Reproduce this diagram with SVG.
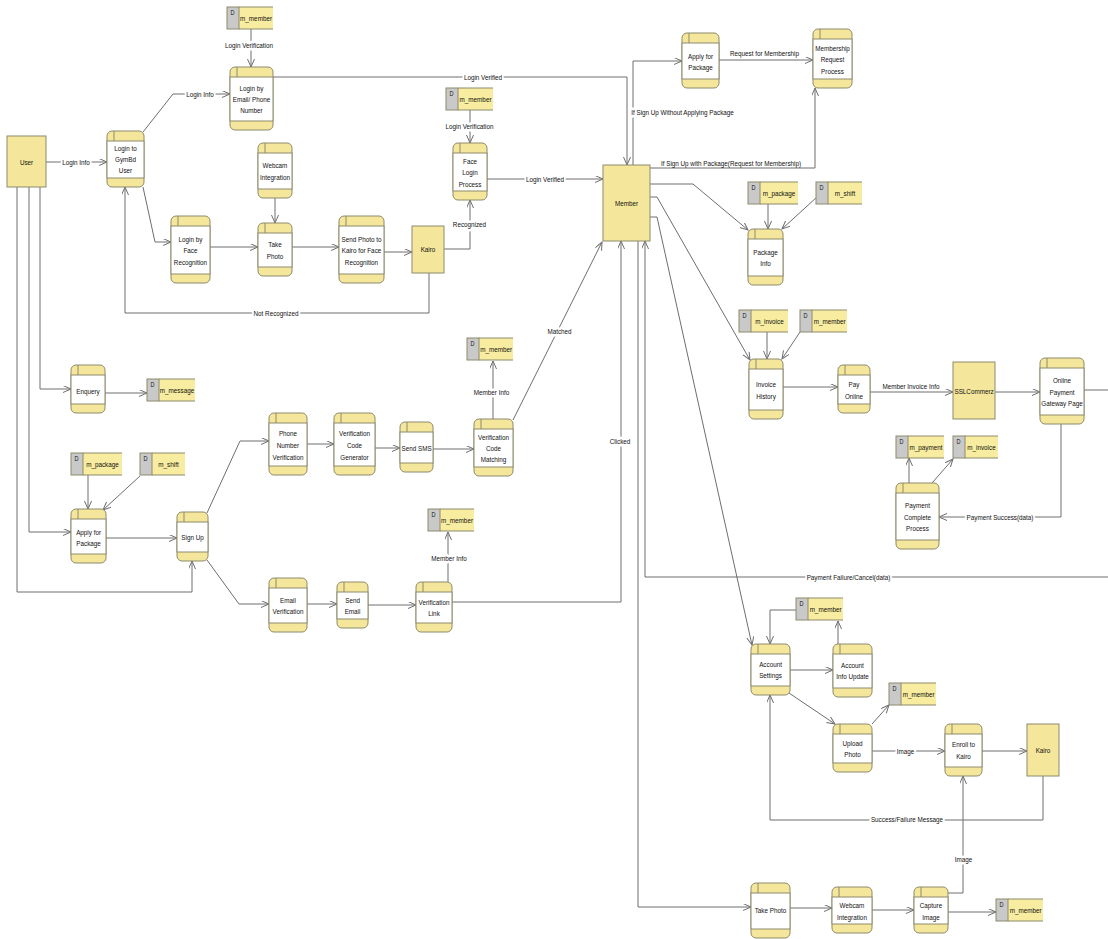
<svg xmlns="http://www.w3.org/2000/svg" width="1108" height="939" viewBox="0 0 1108 939">
<style>
.bg{fill:#fff}
.pb{fill:#f4e79b;stroke:#8e8a6c;stroke-width:1}
.pw{fill:#fff;stroke:#8e8a6c;stroke-width:1}
.pd{stroke:#8e8a6c;stroke-width:1}
.ent{fill:#f4e79b;stroke:#8e8a6c;stroke-width:1}
.dg{fill:#c9c9c9;stroke:#8e8a6c;stroke-width:1}
.dy{fill:#f7ec9f}
.db{fill:none;stroke:#8e8a6c;stroke-width:1}
text{font-family:"Liberation Sans",Arial,sans-serif;font-size:8px;fill:#111;transform:scaleX(0.79);transform-box:fill-box;transform-origin:center}
.t{text-anchor:middle}
.td{text-anchor:middle;font-size:7px}
.cn path{fill:none;stroke:#6e6e6e;stroke-width:1}
.cn path.a{marker-end:url(#arr)}
.lab text{text-anchor:middle}
.lab text.h{stroke:#fff;stroke-width:5px;paint-order:stroke;stroke-linejoin:round}
</style>
<defs>
<marker id="arr" markerUnits="userSpaceOnUse" markerWidth="10" markerHeight="9" refX="8" refY="3.5" orient="auto">
<path d="M0,0 L8,3.5 L0,7" fill="none" stroke="#6e6e6e" stroke-width="1"/>
</marker>
</defs>
<rect class="bg" x="0" y="0" width="1108" height="939"/>

<g id="connectors" class="cn">
<path class="a" d="M46,162 H107"/>
<path class="a" d="M143,132 L173,94 H230"/>
<path class="a" d="M251,29 V67"/>
<path class="a" d="M273,77 H627 V165"/>
<path class="a" d="M143,187 L155,242 H171"/>
<path class="a" d="M210,247 H258"/>
<path class="a" d="M275,198 V223"/>
<path class="a" d="M292,247 H339"/>
<path class="a" d="M384,252 H412"/>
<path class="a" d="M444,249 H470 V200"/>
<path class="a" d="M429,273 V313 H125 V187"/>
<path class="a" d="M470,110 V143"/>
<path class="a" d="M487,179 H603"/>
<path class="a" d="M633,165 V61 H682"/>
<path class="a" d="M719,60 H813"/>
<path class="a" d="M650,168 H815 V88"/>
<path class="a" d="M650,184 H693 L748,230"/>
<path class="a" d="M768,204 V229"/>
<path class="a" d="M817,197 L782,229"/>
<path class="a" d="M650,197 H657 L750,360"/>
<path class="a" d="M767,332 V359"/>
<path class="a" d="M800,332 L782,359"/>
<path class="a" d="M783,387 H838"/>
<path class="a" d="M870,392 H953"/>
<path class="a" d="M995,392 H1040"/>
<path d="M1084,390 H1108"/>
<path class="a" d="M1061,424 V517 H939"/>
<path class="a" d="M909,483 V458"/>
<path class="a" d="M932,483 L953,459"/>
<path class="a" d="M1108,577 H645 V241"/>
<path class="a" d="M650,217 H657 L752,645"/>
<path class="a" d="M796,610 H770 V644"/>
<path class="a" d="M790,670 H833"/>
<path class="a" d="M838,644 V621"/>
<path class="a" d="M789,693 L835,724"/>
<path class="a" d="M872,724 L889,705"/>
<path class="a" d="M872,751 H945"/>
<path class="a" d="M982,751 H1027"/>
<path class="a" d="M1043,776 V820 H770 V695"/>
<path class="a" d="M638,241 V907 H751"/>
<path class="a" d="M790,908 H832"/>
<path class="a" d="M872,910 H914"/>
<path class="a" d="M948,912 H996"/>
<path class="a" d="M948,893 H963 V776"/>
<path class="a" d="M40,187 V389 H71"/>
<path class="a" d="M105,393 H147"/>
<path class="a" d="M29,187 V532 H71"/>
<path class="a" d="M17,187 V592 H192 V561"/>
<path class="a" d="M88,475 V509"/>
<path class="a" d="M140,476 L103,510"/>
<path class="a" d="M106,538 H177"/>
<path class="a" d="M207,513 L240,441 H269"/>
<path class="a" d="M307,444 H334"/>
<path class="a" d="M375,448 H400"/>
<path class="a" d="M433,449 H474"/>
<path class="a" d="M513,420 L602,242"/>
<path class="a" d="M493,419 V361"/>
<path class="a" d="M207,560 L239,604 H269"/>
<path class="a" d="M307,604 H337"/>
<path class="a" d="M368,605 H416"/>
<path class="a" d="M448,582 V532"/>
<path class="a" d="M452,602 H621 V241"/>
</g>

<g id="labels" class="lab">
<text class="h" x="76" y="165">Login Info</text>
<text class="h" x="200" y="97">Login Info</text>
<text class="h" x="249" y="48">Login Verification</text>
<text class="h" x="483" y="80">Login Verified</text>
<text class="h" x="469.5" y="129">Login Verification</text>
<text class="h" x="545" y="182">Login Verified</text>
<text class="h" x="469.5" y="227">Recognized</text>
<text class="h" x="276" y="316">Not Recognized</text>
<text class="h" x="682.5" y="115">If Sign Up Without Applying Package</text>
<text x="764.5" y="56">Request for Membership</text>
<text x="731" y="166">If Sign Up with Package(Request for Membership)</text>
<text class="h" x="559.5" y="334">Matched</text>
<text class="h" x="491.5" y="395">Member Info</text>
<text class="h" x="620" y="444">Clicked</text>
<text x="911" y="389">Member Invoice Info</text>
<text class="h" x="1000" y="520">Payment Success(data)</text>
<text class="h" x="848.5" y="580">Payment Failure/Cancel(data)</text>
<text class="h" x="449" y="561">Member Info</text>
<text class="h" x="905.5" y="754">Image</text>
<text class="h" x="907" y="822">Success/Failure Message</text>
<text class="h" x="963.5" y="862">Image</text>
</g>

<!-- External entities -->
<g id="e-user"><rect class="ent" x="7" y="136" width="39" height="51"/><text class="t" x="26.5" y="165">User</text></g>
<g id="e-kairo1"><rect class="ent" x="412" y="226" width="32" height="47"/><text class="t" x="428" y="252">Kairo</text></g>
<g id="e-member"><rect class="ent" x="603" y="165" width="47" height="76"/><text class="t" x="626.5" y="206">Member</text></g>
<g id="e-sslcommerz"><rect class="ent" x="953" y="362" width="42" height="57"/><text class="t" x="974" y="394">SSLCommerz</text></g>
<g id="e-kairo2"><rect class="ent" x="1027" y="724" width="32" height="52"/><text class="t" x="1043" y="753">Kairo</text></g>

<!-- Processes -->
<g id="p-login-gymbd"><rect class="pb" x="107" y="131" width="37" height="56" rx="5"/><rect class="pw" x="107" y="141" width="37" height="37"/><line class="pd" x1="114" y1="131" x2="114" y2="141"/><text class="t"><tspan x="125.5" y="151">Login to</tspan><tspan x="125.5" y="162">GymBd</tspan><tspan x="125.5" y="173">User</tspan></text></g>
<g id="p-login-email"><rect class="pb" x="230" y="67" width="43" height="63" rx="5"/><rect class="pw" x="230" y="77" width="43" height="44"/><line class="pd" x1="237" y1="67" x2="237" y2="77"/><text class="t"><tspan x="251.5" y="91">Login by</tspan><tspan x="251.5" y="102">Email/ Phone</tspan><tspan x="251.5" y="113">Number</tspan></text></g>
<g id="p-webcam1"><rect class="pb" x="258" y="143" width="34" height="55" rx="5"/><rect class="pw" x="258" y="153" width="34" height="36"/><line class="pd" x1="265" y1="143" x2="265" y2="153"/><text class="t"><tspan x="275" y="168">Webcam</tspan><tspan x="275" y="180">Integration</tspan></text></g>
<g id="p-face-recog"><rect class="pb" x="171" y="216" width="39" height="67" rx="5"/><rect class="pw" x="171" y="226" width="39" height="48"/><line class="pd" x1="178" y1="216" x2="178" y2="226"/><text class="t"><tspan x="190.5" y="242">Login by</tspan><tspan x="190.5" y="253">Face</tspan><tspan x="190.5" y="265">Recognition</tspan></text></g>
<g id="p-take-photo1"><rect class="pb" x="258" y="223" width="34" height="53" rx="5"/><rect class="pw" x="258" y="233" width="34" height="34"/><line class="pd" x1="265" y1="223" x2="265" y2="233"/><text class="t"><tspan x="275" y="247">Take</tspan><tspan x="275" y="259">Photo</tspan></text></g>
<g id="p-send-photo"><rect class="pb" x="339" y="216" width="45" height="67" rx="5"/><rect class="pw" x="339" y="226" width="45" height="48"/><line class="pd" x1="346" y1="216" x2="346" y2="226"/><text class="t"><tspan x="361.5" y="242">Send Photo to</tspan><tspan x="361.5" y="253">Kairo for Face</tspan><tspan x="361.5" y="265">Recognition</tspan></text></g>
<g id="p-face-login"><rect class="pb" x="453" y="143" width="34" height="57" rx="5"/><rect class="pw" x="453" y="153" width="34" height="38"/><line class="pd" x1="460" y1="143" x2="460" y2="153"/><text class="t"><tspan x="470" y="164">Face</tspan><tspan x="470" y="175">Login</tspan><tspan x="470" y="187">Process</tspan></text></g>
<g id="p-apply-pkg-top"><rect class="pb" x="682" y="33" width="37" height="55" rx="5"/><rect class="pw" x="682" y="43" width="37" height="36"/><line class="pd" x1="689" y1="33" x2="689" y2="43"/><text class="t"><tspan x="700.5" y="59">Apply for</tspan><tspan x="700.5" y="70">Package</tspan></text></g>
<g id="p-membership"><rect class="pb" x="813" y="29" width="39" height="59" rx="5"/><rect class="pw" x="813" y="39" width="39" height="40"/><line class="pd" x1="820" y1="29" x2="820" y2="39"/><text class="t"><tspan x="832.5" y="51">Membership</tspan><tspan x="832.5" y="62">Request</tspan><tspan x="832.5" y="74">Process</tspan></text></g>
<g id="p-package-info"><rect class="pb" x="748" y="229" width="35" height="56" rx="5"/><rect class="pw" x="748" y="239" width="35" height="37"/><line class="pd" x1="755" y1="229" x2="755" y2="239"/><text class="t"><tspan x="765.5" y="255">Package</tspan><tspan x="765.5" y="266">Info</tspan></text></g>
<g id="p-invoice-history"><rect class="pb" x="749" y="359" width="34" height="60" rx="5"/><rect class="pw" x="749" y="369" width="34" height="41"/><line class="pd" x1="756" y1="359" x2="756" y2="369"/><text class="t"><tspan x="766" y="387">Invoice</tspan><tspan x="766" y="399">History</tspan></text></g>
<g id="p-pay-online"><rect class="pb" x="838" y="365" width="32" height="48" rx="5"/><rect class="pw" x="838" y="375" width="32" height="29"/><line class="pd" x1="845" y1="365" x2="845" y2="375"/><text class="t"><tspan x="854" y="387">Pay</tspan><tspan x="854" y="399">Online</tspan></text></g>
<g id="p-gateway"><rect class="pb" x="1040" y="358" width="44" height="66" rx="5"/><rect class="pw" x="1040" y="368" width="44" height="47"/><line class="pd" x1="1047" y1="358" x2="1047" y2="368"/><text class="t"><tspan x="1062" y="383">Online</tspan><tspan x="1062" y="395">Payment</tspan><tspan x="1062" y="406">Gateway Page</tspan></text></g>
<g id="p-payment-complete"><rect class="pb" x="896" y="483" width="43" height="66" rx="5"/><rect class="pw" x="896" y="493" width="43" height="47"/><line class="pd" x1="903" y1="483" x2="903" y2="493"/><text class="t"><tspan x="917.5" y="508">Payment</tspan><tspan x="917.5" y="520">Complete</tspan><tspan x="917.5" y="531">Process</tspan></text></g>
<g id="p-enquery"><rect class="pb" x="71" y="365" width="34" height="48" rx="5"/><rect class="pw" x="71" y="375" width="34" height="29"/><line class="pd" x1="78" y1="365" x2="78" y2="375"/><text class="t" x="88" y="394">Enquery</text></g>
<g id="p-phone-ver"><rect class="pb" x="269" y="413" width="38" height="62" rx="5"/><rect class="pw" x="269" y="423" width="38" height="43"/><line class="pd" x1="276" y1="413" x2="276" y2="423"/><text class="t"><tspan x="288" y="436">Phone</tspan><tspan x="288" y="448">Number</tspan><tspan x="288" y="460">Verification</tspan></text></g>
<g id="p-vcode-gen"><rect class="pb" x="334" y="413" width="41" height="62" rx="5"/><rect class="pw" x="334" y="423" width="41" height="43"/><line class="pd" x1="341" y1="413" x2="341" y2="423"/><text class="t"><tspan x="354.5" y="436">Verification</tspan><tspan x="354.5" y="448">Code</tspan><tspan x="354.5" y="460">Generator</tspan></text></g>
<g id="p-send-sms"><rect class="pb" x="400" y="422" width="33" height="50" rx="5"/><rect class="pw" x="400" y="432" width="33" height="31"/><line class="pd" x1="407" y1="422" x2="407" y2="432"/><text class="t" x="416.5" y="451">Send SMS</text></g>
<g id="p-vcode-match"><rect class="pb" x="474" y="419" width="39" height="57" rx="5"/><rect class="pw" x="474" y="429" width="39" height="38"/><line class="pd" x1="481" y1="419" x2="481" y2="429"/><text class="t"><tspan x="493.5" y="440">Verification</tspan><tspan x="493.5" y="451">Code</tspan><tspan x="493.5" y="462">Matching</tspan></text></g>
<g id="p-apply-pkg-left"><rect class="pb" x="71" y="509" width="35" height="54" rx="5"/><rect class="pw" x="71" y="519" width="35" height="35"/><line class="pd" x1="78" y1="509" x2="78" y2="519"/><text class="t"><tspan x="88.5" y="535">Apply for</tspan><tspan x="88.5" y="546">Package</tspan></text></g>
<g id="p-signup"><rect class="pb" x="177" y="512" width="31" height="49" rx="5"/><rect class="pw" x="177" y="522" width="31" height="30"/><line class="pd" x1="184" y1="512" x2="184" y2="522"/><text class="t" x="192.5" y="540">Sign Up</text></g>
<g id="p-email-ver"><rect class="pb" x="269" y="578" width="38" height="54" rx="5"/><rect class="pw" x="269" y="588" width="38" height="35"/><line class="pd" x1="276" y1="578" x2="276" y2="588"/><text class="t"><tspan x="288" y="603">Email</tspan><tspan x="288" y="614">Verification</tspan></text></g>
<g id="p-send-email"><rect class="pb" x="337" y="582" width="31" height="46" rx="5"/><rect class="pw" x="337" y="592" width="31" height="27"/><line class="pd" x1="344" y1="582" x2="344" y2="592"/><text class="t"><tspan x="352.5" y="603">Send</tspan><tspan x="352.5" y="614">Email</tspan></text></g>
<g id="p-ver-link"><rect class="pb" x="416" y="582" width="36" height="50" rx="5"/><rect class="pw" x="416" y="592" width="36" height="31"/><line class="pd" x1="423" y1="582" x2="423" y2="592"/><text class="t"><tspan x="434" y="605">Verification</tspan><tspan x="434" y="616">Link</tspan></text></g>
<g id="p-acct-settings"><rect class="pb" x="751" y="644" width="39" height="51" rx="5"/><rect class="pw" x="751" y="654" width="39" height="32"/><line class="pd" x1="758" y1="644" x2="758" y2="654"/><text class="t"><tspan x="770.5" y="667">Account</tspan><tspan x="770.5" y="678">Settings</tspan></text></g>
<g id="p-acct-update"><rect class="pb" x="833" y="644" width="39" height="53" rx="5"/><rect class="pw" x="833" y="654" width="39" height="34"/><line class="pd" x1="840" y1="644" x2="840" y2="654"/><text class="t"><tspan x="852.5" y="668">Account</tspan><tspan x="852.5" y="679">Info Update</tspan></text></g>
<g id="p-upload-photo"><rect class="pb" x="833" y="724" width="39" height="48" rx="5"/><rect class="pw" x="833" y="734" width="39" height="29"/><line class="pd" x1="840" y1="724" x2="840" y2="734"/><text class="t"><tspan x="852.5" y="746">Upload</tspan><tspan x="852.5" y="757">Photo</tspan></text></g>
<g id="p-enroll"><rect class="pb" x="945" y="724" width="37" height="52" rx="5"/><rect class="pw" x="945" y="734" width="37" height="33"/><line class="pd" x1="952" y1="724" x2="952" y2="734"/><text class="t"><tspan x="963.5" y="747">Enroll to</tspan><tspan x="963.5" y="759">Kairo</tspan></text></g>
<g id="p-take-photo2"><rect class="pb" x="751" y="883" width="39" height="55" rx="5"/><rect class="pw" x="751" y="893" width="39" height="36"/><line class="pd" x1="758" y1="883" x2="758" y2="893"/><text class="t" x="770.5" y="913">Take Photo</text></g>
<g id="p-webcam2"><rect class="pb" x="832" y="887" width="40" height="46" rx="5"/><rect class="pw" x="832" y="897" width="40" height="27"/><line class="pd" x1="839" y1="887" x2="839" y2="897"/><text class="t"><tspan x="852" y="908">Webcam</tspan><tspan x="852" y="920">Integration</tspan></text></g>
<g id="p-capture"><rect class="pb" x="914" y="887" width="34" height="46" rx="5"/><rect class="pw" x="914" y="897" width="34" height="27"/><line class="pd" x1="921" y1="887" x2="921" y2="897"/><text class="t"><tspan x="931" y="908">Capture</tspan><tspan x="931" y="920">Image</tspan></text></g>

<!-- Data stores -->
<g id="d-member1"><rect class="dy" x="239" y="7" width="34" height="22"/><path class="db" d="M239,7H273M239,29H273"/><rect class="dg" x="227" y="7" width="12" height="22"/><text class="td" x="232.5" y="15">D</text><text class="t" x="256" y="21">m_member</text></g>
<g id="d-member2"><rect class="dy" x="458" y="88" width="35" height="22"/><path class="db" d="M458,88H493M458,110H493"/><rect class="dg" x="446" y="88" width="12" height="22"/><text class="td" x="451.5" y="96">D</text><text class="t" x="475.5" y="102">m_member</text></g>
<g id="d-package1"><rect class="dy" x="760" y="182" width="38" height="22"/><path class="db" d="M760,182H798M760,204H798"/><rect class="dg" x="748" y="182" width="12" height="22"/><text class="td" x="753.5" y="190">D</text><text class="t" x="779" y="196">m_package</text></g>
<g id="d-shift1"><rect class="dy" x="828" y="182" width="34" height="22"/><path class="db" d="M828,182H862M828,204H862"/><rect class="dg" x="816" y="182" width="12" height="22"/><text class="td" x="821.5" y="190">D</text><text class="t" x="845" y="196">m_shift</text></g>
<g id="d-invoice1"><rect class="dy" x="751" y="310" width="37" height="22"/><path class="db" d="M751,310H788M751,332H788"/><rect class="dg" x="739" y="310" width="12" height="22"/><text class="td" x="744.5" y="318">D</text><text class="t" x="769.5" y="324">m_invoice</text></g>
<g id="d-member3"><rect class="dy" x="812" y="310" width="35" height="22"/><path class="db" d="M812,310H847M812,332H847"/><rect class="dg" x="800" y="310" width="12" height="22"/><text class="td" x="805.5" y="318">D</text><text class="t" x="829.5" y="324">m_member</text></g>
<g id="d-payment"><rect class="dy" x="908" y="436" width="36" height="22"/><path class="db" d="M908,436H944M908,458H944"/><rect class="dg" x="896" y="436" width="12" height="22"/><text class="td" x="901.5" y="444">D</text><text class="t" x="926" y="450">m_payment</text></g>
<g id="d-invoice2"><rect class="dy" x="965" y="436" width="33" height="22"/><path class="db" d="M965,436H998M965,458H998"/><rect class="dg" x="953" y="436" width="12" height="22"/><text class="td" x="958.5" y="444">D</text><text class="t" x="981.5" y="450">m_invoice</text></g>
<g id="d-message"><rect class="dy" x="159" y="379" width="36" height="22"/><path class="db" d="M159,379H195M159,401H195"/><rect class="dg" x="147" y="379" width="12" height="22"/><text class="td" x="152.5" y="387">D</text><text class="t" x="177" y="393">m_message</text></g>
<g id="d-member4"><rect class="dy" x="479" y="338" width="34" height="22"/><path class="db" d="M479,338H513M479,360H513"/><rect class="dg" x="467" y="338" width="12" height="22"/><text class="td" x="472.5" y="346">D</text><text class="t" x="496" y="352">m_member</text></g>
<g id="d-package2"><rect class="dy" x="83" y="453" width="39" height="22"/><path class="db" d="M83,453H122M83,475H122"/><rect class="dg" x="71" y="453" width="12" height="22"/><text class="td" x="76.5" y="461">D</text><text class="t" x="102.5" y="467">m_package</text></g>
<g id="d-shift2"><rect class="dy" x="152" y="453" width="33" height="22"/><path class="db" d="M152,453H185M152,475H185"/><rect class="dg" x="140" y="453" width="12" height="22"/><text class="td" x="145.5" y="461">D</text><text class="t" x="168.5" y="467">m_shift</text></g>
<g id="d-member5"><rect class="dy" x="440" y="509" width="34" height="22"/><path class="db" d="M440,509H474M440,531H474"/><rect class="dg" x="428" y="509" width="12" height="22"/><text class="td" x="433.5" y="517">D</text><text class="t" x="457" y="523">m_member</text></g>
<g id="d-member6"><rect class="dy" x="808" y="598" width="35" height="22"/><path class="db" d="M808,598H843M808,620H843"/><rect class="dg" x="796" y="598" width="12" height="22"/><text class="td" x="801.5" y="606">D</text><text class="t" x="825.5" y="612">m_member</text></g>
<g id="d-member7"><rect class="dy" x="901" y="683" width="35" height="22"/><path class="db" d="M901,683H936M901,705H936"/><rect class="dg" x="889" y="683" width="12" height="22"/><text class="td" x="894.5" y="691">D</text><text class="t" x="918.5" y="697">m_member</text></g>
<g id="d-member8"><rect class="dy" x="1008" y="899" width="35" height="22"/><path class="db" d="M1008,899H1043M1008,921H1043"/><rect class="dg" x="996" y="899" width="12" height="22"/><text class="td" x="1001.5" y="907">D</text><text class="t" x="1025.5" y="913">m_member</text></g>
</svg>
